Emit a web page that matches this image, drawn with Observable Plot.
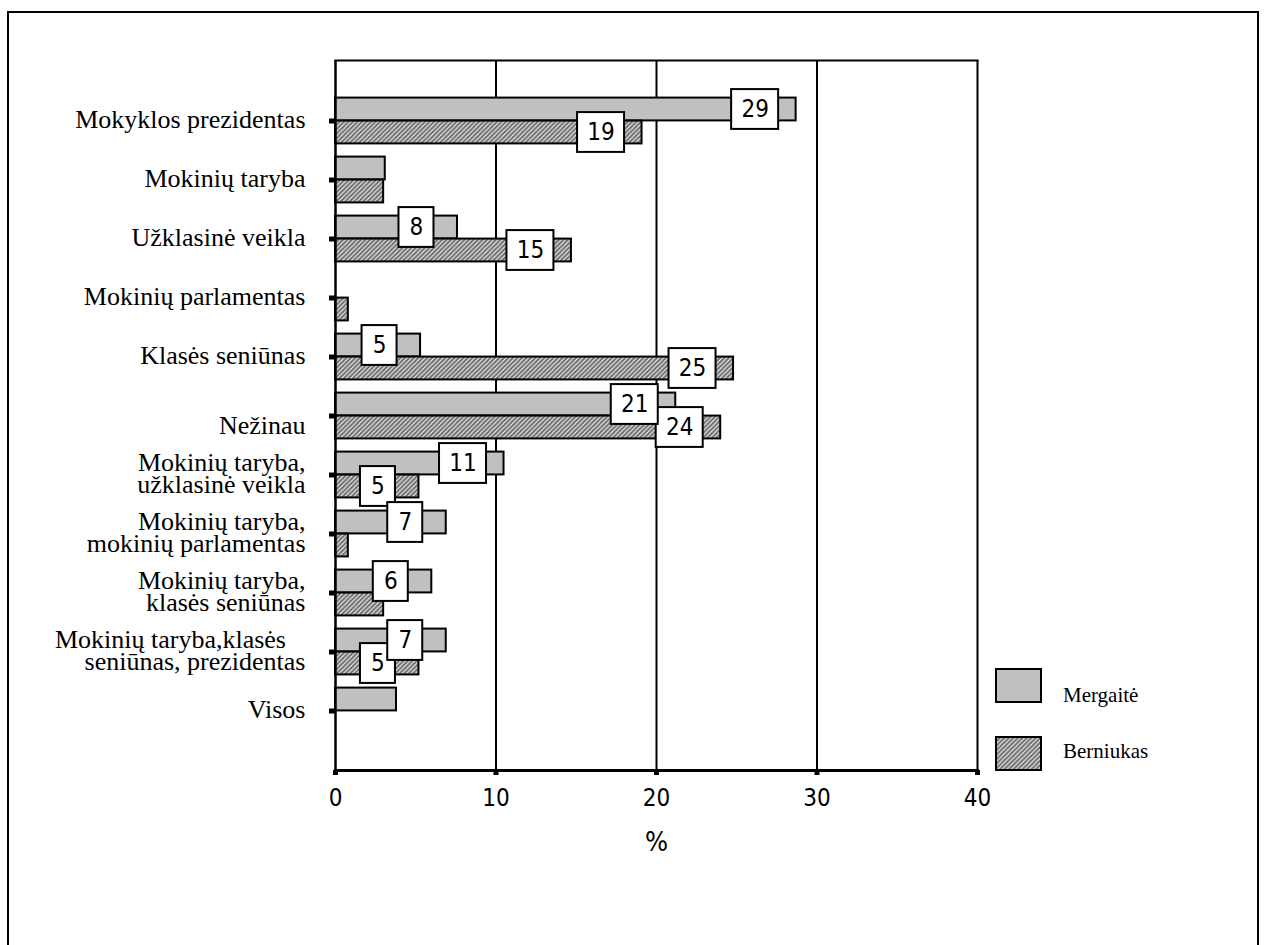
<!DOCTYPE html>
<html><head><meta charset="utf-8">
<script src="https://cdn.jsdelivr.net/npm/d3@7"></script>
<script src="https://cdn.jsdelivr.net/npm/@observablehq/plot@0.6"></script>
<style>
body{margin:0;background:#fff;}
#page{position:relative;width:1267px;height:945px;overflow:hidden;background:#fff;}
#page svg.plot{position:absolute;left:0;top:0;}
.border{position:absolute;background:#000;}
.legend-item{position:absolute;font-family:"Liberation Serif","Times New Roman",serif;font-size:21px;color:#000;}
.swatch{position:absolute;}
g[aria-label="category-labels"] text{font-family:"Liberation Serif","Times New Roman",serif !important;}
g[aria-label="value-labels"] text, g[aria-label="x-axis tick label"] text, g[aria-label="x-title"] text{font-family:"DejaVu Sans Condensed","DejaVu Sans",sans-serif !important;font-stretch:condensed;}
</style></head><body>
<svg width="0" height="0" style="position:absolute">
  <defs>
    <pattern id="hatch" patternUnits="userSpaceOnUse" width="4.5" height="4.5">
      <rect width="4.5" height="4.5" fill="#707070"></rect>
      <path d="M-1,1 L1,-1 M0,4.5 L4.5,0 M3.5,5.5 L5.5,3.5" stroke="#fff" stroke-width="1"></path>
    </pattern>
  </defs>
</svg>
<div id="page"></div>
<script>
// ---- data ----
const categories = [
  "Mokyklos prezidentas",
  "Mokinių taryba",
  "Užklasinė veikla",
  "Mokinių parlamentas",
  "Klasės seniūnas",
  "Nežinau",
  "Mokinių taryba, užklasinė veikla",
  "Mokinių taryba, mokinių parlamentas",
  "Mokinių taryba, klasės seniūnas",
  "Mokinių taryba,klasės seniūnas, prezidentas",
  "Visos"
];
const categoryLabels = [
  "Mokyklos prezidentas",
  "Mokinių taryba",
  "Užklasinė veikla",
  "Mokinių parlamentas",
  "Klasės seniūnas",
  "\nNežinau",
  "Mokinių taryba,\nužklasinė veikla",
  "Mokinių taryba,\nmokinių parlamentas",
  "Mokinių taryba,\nklasės seniūnas",
  "Mokinių taryba,klasės\u00a0\u00a0\u00a0\nseniūnas, prezidentas",
  "Visos"
];
const series = ["Mergaitė", "Berniukas"];
const mergaite  = [28.7, 3.1, 7.6, 0, 5.3, 21.2, 10.5, 6.9, 6.0, 6.9, 3.8];
const berniukas = [19.1, 3.0, 14.7, 0.8, 24.8, 24.0, 5.2, 0.8, 3.0, 5.2, 0];
const mergaiteLabels  = ["29", "", "8", "", "5", "21", "11", "7", "6", "7", ""];
const berniukasLabels = ["19", "", "15", "", "25", "24", "5", "", "", "5", ""];
const xTicks = [0, 10, 20, 30, 40];
const xLabel = "%";

// ---- table ----
const girls = categories.map((c, i) => ({category: c, value: mergaite[i], label: mergaiteLabels[i], series: series[0]}));
const boys  = categories.map((c, i) => ({category: c, value: berniukas[i], label: berniukasLabels[i], series: series[1]}));

// ---- layout ----
const W = 1267, H = 945;
const mL = 335, mR = 290, mT = 60, mB = 175;
const step = (H - mT - mB) / (categories.length + 1);
const half = step / 2;
const barH = 23, boxH = 40, labelShift = -41;
const numFont = "'DejaVu Sans Condensed', 'DejaVu Sans', sans-serif";
const serifFont = "'Liberation Serif', 'Times New Roman', serif";

function boxMarks(data, upper) {
  const c = upper ? -barH / 2 : barH / 2;
  const top = half + c - boxH / 2;
  const bottom = half - c - boxH / 2;
  const withLabel = data.filter(d => d.label !== "");
  const marks = [];
  for (const [len, w] of [[1, 35], [2, 47]]) {
    marks.push(Plot.barX(withLabel.filter(d => d.label.length === len), {
      x1: "value", x2: "value", y: "category",
      insetLeft: -w / 2, insetRight: -w / 2,
      insetTop: top, insetBottom: bottom,
      dx: labelShift,
      fill: "#fff", stroke: "#000", strokeWidth: 2
    }));
  }
  marks.push(Plot.text(withLabel, {
    x: "value", y: "category", text: "label",
    dx: labelShift, dy: c,
    fontSize: 24, fontFamily: numFont, fill: "#000",
    ariaLabel: "value-labels"
  }));
  return marks;
}

const chart = Plot.plot({
  width: W, height: H,
  marginLeft: mL, marginRight: mR, marginTop: mT, marginBottom: mB,
  x: {domain: [0, 40], axis: null},
  y: {domain: categories, axis: null, paddingInner: 0, paddingOuter: 0.5},
  style: {background: "transparent", overflow: "visible"},
  marks: [
    Plot.frame({anchor: "top", stroke: "#000", strokeWidth: 2}),
    Plot.ruleX(xTicks.slice(1), {stroke: "#000", strokeWidth: 2}),
    Plot.barX(girls.filter(d => d.value > 0), {
      x: "value", y: "category",
      insetTop: half - barH, insetBottom: half,
      fill: "#c0c0c0", stroke: "#000", strokeWidth: 2
    }),
    Plot.barX(boys.filter(d => d.value > 0), {
      x: "value", y: "category",
      insetTop: half, insetBottom: half - barH,
      fill: "url(#hatch)", stroke: "#000", strokeWidth: 2
    }),
    Plot.ruleX([0], {stroke: "#000", strokeWidth: 2.5}),
    Plot.frame({anchor: "bottom", stroke: "#000", strokeWidth: 3}),
    Plot.axisY({tickSize: 6, strokeWidth: 5, tickFormat: () => "", label: null}),
    Plot.text(categories, {
      y: d => d, text: (d, i) => categoryLabels[i],
      frameAnchor: "left", textAnchor: "end", dx: -30, dy: 0,
      lineHeight: 0.85,
      fontSize: 26, fontFamily: serifFont, fill: "#000",
      ariaLabel: "category-labels"
    }),
    Plot.axisX({ticks: xTicks, tickSize: 5, strokeWidth: 5, tickPadding: 13,
      fontSize: 24, fontFamily: numFont, label: null}),
    Plot.text([xLabel], {frameAnchor: "bottom", dy: 80, text: d => d,
      fontSize: 27, fontFamily: numFont, fill: "#000", ariaLabel: "x-title"}),
    ...boxMarks(boys, false),
    ...boxMarks(girls, true)
  ]
});
chart.classList.add("plot");
const page = document.getElementById("page");
page.appendChild(chart);

// outer border
for (const [l, t, w, h] of [[7, 11, 2, 945], [7, 11, 1252, 2], [1257, 11, 2, 945]]) {
  const b = document.createElement("div");
  b.className = "border";
  Object.assign(b.style, {left: l + "px", top: t + "px", width: w + "px", height: h + "px"});
  page.appendChild(b);
}

// legend
const legendFills = ["#c0c0c0", "url(#hatch)"];
const legendTops = [668, 736];
const legendTextTops = [683, 739];
series.forEach((s, i) => {
  const sw = document.createElementNS("http://www.w3.org/2000/svg", "svg");
  sw.setAttribute("class", "swatch");
  sw.setAttribute("width", 48); sw.setAttribute("height", 36);
  sw.style.left = "995px"; sw.style.top = legendTops[i] + "px";
  const r = document.createElementNS("http://www.w3.org/2000/svg", "rect");
  r.setAttribute("x", 1); r.setAttribute("y", 1); r.setAttribute("width", 45); r.setAttribute("height", 33);
  r.setAttribute("fill", legendFills[i]); r.setAttribute("stroke", "#000"); r.setAttribute("stroke-width", 2);
  sw.appendChild(r);
  page.appendChild(sw);
  const t = document.createElement("div");
  t.className = "legend-item";
  t.textContent = s;
  t.style.left = "1063px";
  t.style.top = legendTextTops[i] + "px";
  page.appendChild(t);
});
</script>
</body></html>
